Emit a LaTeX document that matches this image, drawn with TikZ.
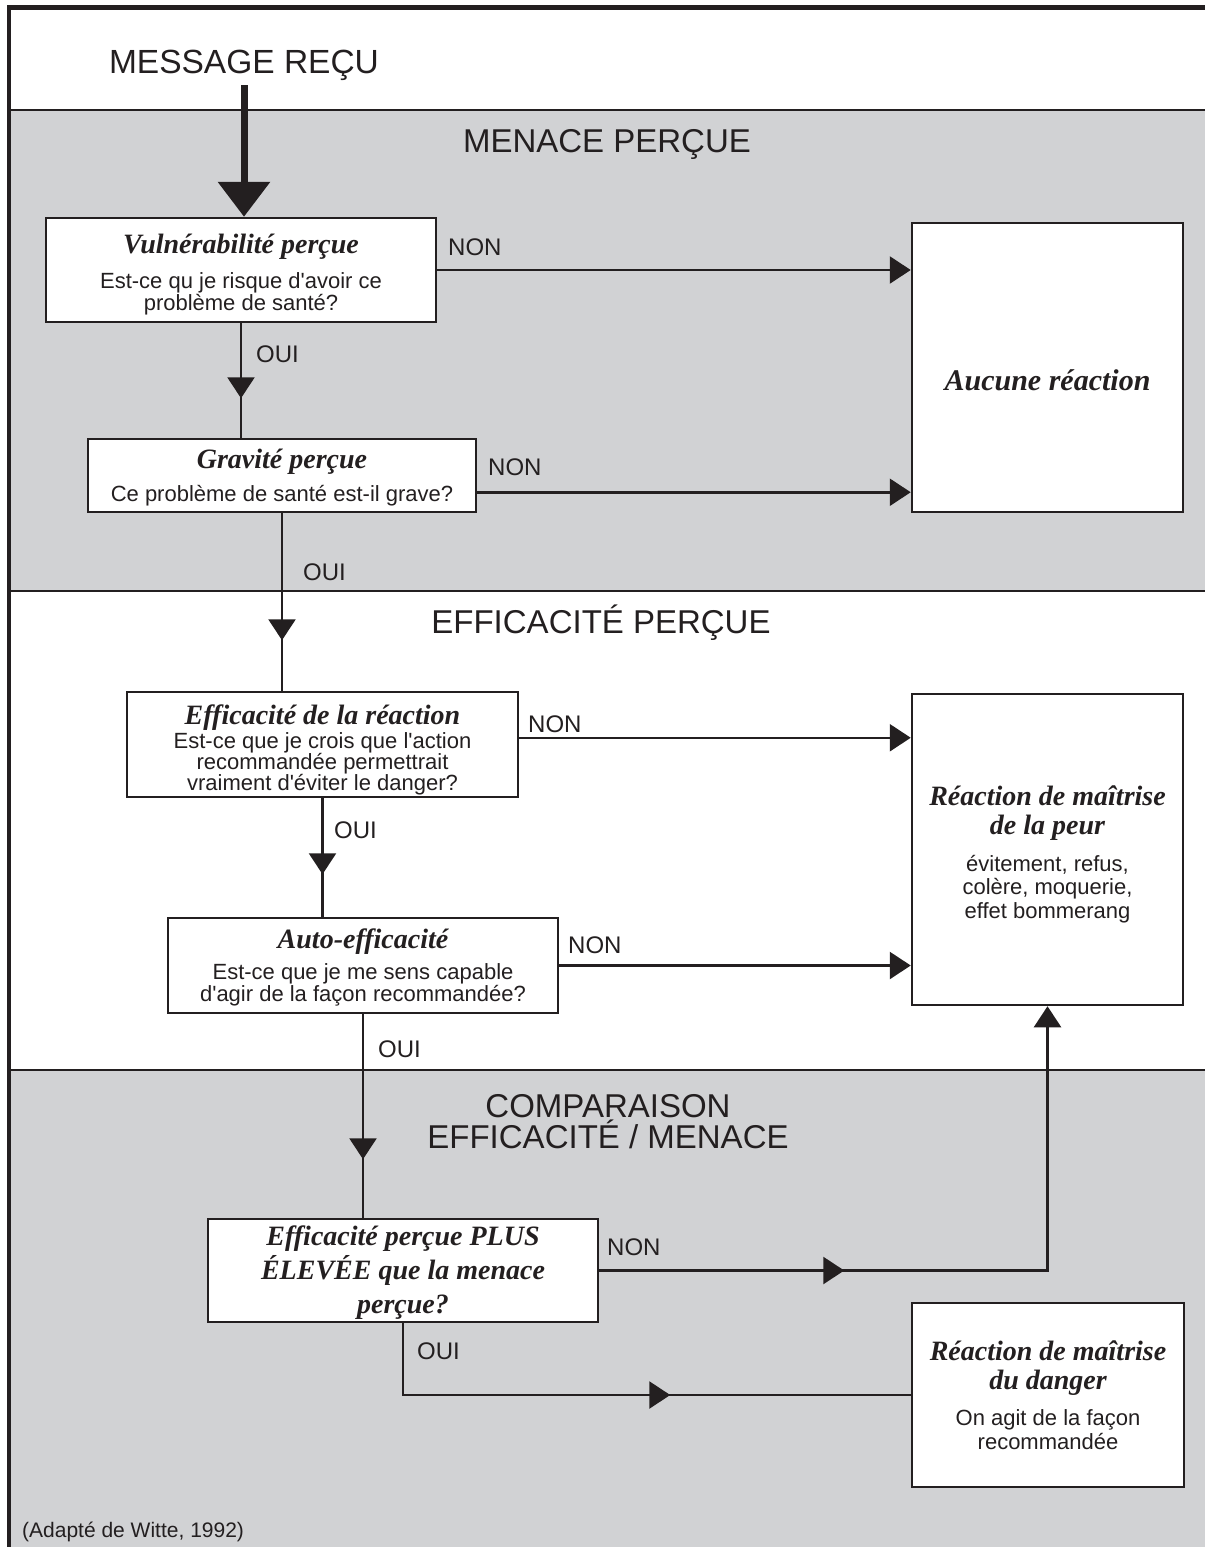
\documentclass[tikz,border=0pt]{standalone}
\usepackage{fontspec}
\setmainfont{Liberation Serif}
\setsansfont{Liberation Sans}[Ligatures=TeXOff]
\usetikzlibrary{arrows.meta,decorations.markings,calc}
\definecolor{ink}{HTML}{231F20}
\definecolor{band}{HTML}{D1D2D4}
\newcommand\boxtitle{\fontsize{28}{30}\selectfont\rmfamily\bfseries\itshape}
\newcommand\boxbody{\fontsize{22}{22.5}\selectfont\sffamily\mdseries\upshape}
\tikzset{
  box/.style={draw=ink, line width=2.5pt, fill=white, inner sep=0pt},
  boxtext/.style={align=center, inner sep=0pt, text=ink, font=\boxbody},
  conn/.style={draw=ink, line width=2.5pt, line join=miter},
  tip/.style={-{Triangle[length=21pt,width=27pt]}},
  midtip/.style={postaction={decorate}, decoration={markings, mark=at position #1 with {\arrow{Triangle[length=21pt,width=27pt]}}}},
  lbl/.style={font=\fontsize{24}{26}\selectfont\sffamily, text=ink, anchor=base west, inner sep=0pt},
  sect/.style={font=\fontsize{33}{31}\selectfont\sffamily, text=ink, align=center, inner sep=0pt, anchor=base},
}
\begin{document}
\begin{tikzpicture}[x=1pt, y=-1pt, color=ink]
\useasboundingbox (0,0) rectangle (1205,1547);
% bands
\fill[white] (0,0) rectangle (1205,1547);
\fill[band] (9,110) rectangle (1205,591);
\fill[band] (9,1070) rectangle (1205,1547);
\draw[line width=1.5pt] (9,110) -- (1205,110);
\draw[line width=1.5pt] (9,591) -- (1205,591);
\draw[line width=1.5pt] (9,1070) -- (1205,1070);
\draw[line width=4.5pt, line join=miter] (9,1547) -- (9,7.5) -- (1205,7.5);

% titles
\node[font=\fontsize{33.5}{35}\selectfont\sffamily, inner sep=0pt, anchor=base] (msg) at (244,73) {MESSAGE REÇU};
\node[sect] (t1) at (607,152) {MENACE PERÇUE};
\node[sect] (t2) at (601,633) {EFFICACITÉ PERÇUE};
\node[sect] (t3) at (608,1148) {COMPARAISON\\EFFICACITÉ / MENACE};

% boxes
\node[box, minimum width=390pt, minimum height=104pt] (v) at (241,270) {};
\node[boxtext] (vt) at ($(v.center)+(0,5)$)
  {\boxtitle Vulnérabilité perçue\\[12pt]Est-ce qu je risque d'avoir ce\\problème de santé?};
\node[box, minimum width=388pt, minimum height=73pt] (g) at (282,475.5) {};
\node[boxtext] (gt) at ($(g.center)+(0,2)$)
  {\boxtitle Gravité perçue\\[10pt]Ce problème de santé est-il grave?};
\node[box, minimum width=391pt, minimum height=105pt] (er) at (322.5,744.5) {};
\node[boxtext, font=\fontsize{22}{21}\selectfont\sffamily] (ert) at ($(er.center)+(0,5)$)
  {\boxtitle Efficacité de la réaction\\[1pt]Est-ce que je crois que l'action\\recommandée permettrait\\vraiment d'éviter le danger?};
\node[box, minimum width=390pt, minimum height=95pt] (ae) at (363,965.5) {};
\node[boxtext] (aet) at ($(ae.center)+(0,2)$)
  {\boxtitle Auto-efficacité\\[8.5pt]Est-ce que je me sens capable\\d'agir de la façon recommandée?};
\node[box, minimum width=390pt, minimum height=103pt] (cmp) at (403,1270.5) {};
\node[boxtext, font=\fontsize{28}{34}\selectfont\rmfamily\bfseries\itshape] (cmpt) at ($(cmp.center)+(0,2.5)$)
  {Efficacité perçue PLUS\\ÉLEVÉE que la menace\\perçue?};
\node[box, minimum width=271pt, minimum height=289pt] (none) at (1047.5,367.5) {};
\node[boxtext, font=\fontsize{30}{32}\selectfont\rmfamily\bfseries\itshape] (nonet) at ($(none.center)+(0,13)$)
  {Aucune réaction};
\node[box, minimum width=271pt, minimum height=311pt] (fear) at (1047.5,849.5) {};
\node[boxtext, font=\fontsize{22}{23.5}\selectfont\sffamily] (feart) at ($(fear.center)+(0,5)$)
  {\boxtitle Réaction de maîtrise\\[5.5pt]\boxtitle de la peur\\[13pt]évitement, refus,\\colère, moquerie,\\effet bommerang};
\node[box, minimum width=272pt, minimum height=184pt] (danger) at (1048,1395) {};
\node[boxtext, font=\fontsize{22}{23.5}\selectfont\sffamily] (dangert) at (danger.center)
  {\boxtitle Réaction de maîtrise\\[5.5pt]\boxtitle du danger\\[12.5pt]On agit de la façon\\recommandée};

% message arrow
\draw[line width=7pt, shorten <=5pt, -{Triangle[length=35pt,width=51pt]}] (msg.south) -- (msg.south |- v.north);

% connectors
\draw[conn, tip] (v.east) -- (v.east -| none.west);
\coordinate (gout) at ($(g.south east)+(0,-21)$);
\draw[conn, tip] (gout) -- (gout -| none.west);
\coordinate (erout) at ($(er.north east)+(0,47)$);
\draw[conn, tip] (erout) -- (erout -| fear.west);
\draw[conn, tip] (ae.east) -- (ae.east -| fear.west);
\draw[conn, tip, midtip=245pt] (cmp.east) -- (cmp.east -| fear.south) -- (fear.south);
\draw[conn, midtip=339pt] (cmp.south) |- (danger.west);
\draw[conn, midtip=75pt] (v.south) -- (v.south |- g.north);
\draw[conn, midtip=127pt] (g.south) -- (g.south |- er.north);
\draw[conn, midtip=76pt] (er.south) -- (er.south |- ae.north);
\draw[conn, midtip=145pt] (ae.south) -- (ae.south |- cmp.north);

% labels
\node[lbl] (n1) at (448,255) {NON};
\node[lbl] (n2) at (488,475) {NON};
\node[lbl] (n3) at (528,732) {NON};
\node[lbl] (n4) at (568,953) {NON};
\node[lbl] (n5) at (607,1255) {NON};
\node[lbl] (o1) at (256,362) {OUI};
\node[lbl] (o2) at (303,580) {OUI};
\node[lbl] (o3) at (334,838) {OUI};
\node[lbl] (o4) at (378,1057) {OUI};
\node[lbl] (o5) at (417,1359) {OUI};

\node[font=\fontsize{21}{23}\selectfont\sffamily, anchor=base west, inner sep=0pt] (src) at (22,1537) {(Adapté de Witte, 1992)};
\end{tikzpicture}
\end{document}
